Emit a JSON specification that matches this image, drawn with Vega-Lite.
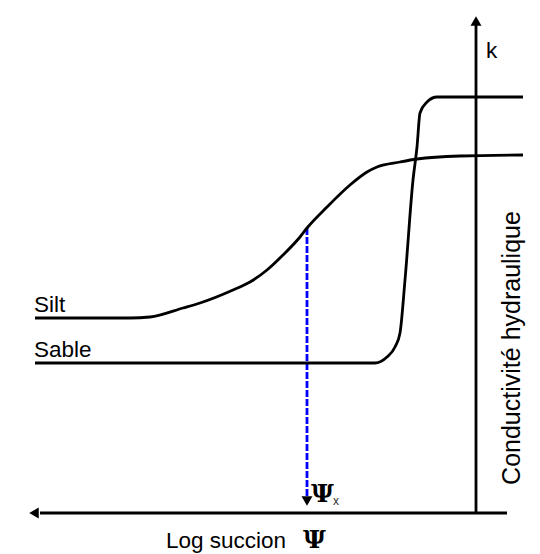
{
  "$schema": "https://vega.github.io/schema/vega-lite/v6.json",
  "width": 540,
  "height": 554,
  "autosize": {"type": "fit", "contains": "padding"},
  "padding": 0,
  "background": "white",
  "config": {"view": {"stroke": null}},
  "datasets": {
    "curves": [
      {"soil": "Silt", "x": 35, "y": 236},
      {"soil": "Silt", "x": 130, "y": 236},
      {"soil": "Silt", "x": 150, "y": 237},
      {"soil": "Silt", "x": 183, "y": 246},
      {"soil": "Silt", "x": 200, "y": 251},
      {"soil": "Silt", "x": 233, "y": 264},
      {"soil": "Silt", "x": 250, "y": 272},
      {"soil": "Silt", "x": 267, "y": 284},
      {"soil": "Silt", "x": 283, "y": 299},
      {"soil": "Silt", "x": 300, "y": 317},
      {"soil": "Silt", "x": 307, "y": 326},
      {"soil": "Silt", "x": 327, "y": 347},
      {"soil": "Silt", "x": 350, "y": 369},
      {"soil": "Silt", "x": 367, "y": 382},
      {"soil": "Silt", "x": 377, "y": 387},
      {"soil": "Silt", "x": 400, "y": 392},
      {"soil": "Silt", "x": 417, "y": 395},
      {"soil": "Silt", "x": 460, "y": 398},
      {"soil": "Silt", "x": 523, "y": 399},
      {"soil": "Sable", "x": 35, "y": 191},
      {"soil": "Sable", "x": 375, "y": 191},
      {"soil": "Sable", "x": 387, "y": 197},
      {"soil": "Sable", "x": 395, "y": 207},
      {"soil": "Sable", "x": 400, "y": 221},
      {"soil": "Sable", "x": 405, "y": 274},
      {"soil": "Sable", "x": 413, "y": 374},
      {"soil": "Sable", "x": 417, "y": 407},
      {"soil": "Sable", "x": 420, "y": 441},
      {"soil": "Sable", "x": 427, "y": 452},
      {"soil": "Sable", "x": 437, "y": 457},
      {"soil": "Sable", "x": 523, "y": 457}
    ],
    "axes": [
      {"x": 476, "y": 41, "x2": 476, "y2": 530},
      {"x": 40, "y": 41, "x2": 507, "y2": 41}
    ],
    "guide": [
      {"x": 307, "y": 326, "x2": 307, "y2": 58}
    ]
  },
  "layer": [
    {
      "data": {"name": "axes"},
      "mark": {"type": "rule", "color": "black", "strokeWidth": 2.8},
      "encoding": {
        "x": {"field": "x", "type": "quantitative", "scale": {"domain": [0, 540], "nice": false, "zero": false}, "axis": null},
        "y": {"field": "y", "type": "quantitative", "scale": {"domain": [0, 554], "nice": false, "zero": false}, "axis": null},
        "x2": {"field": "x2"},
        "y2": {"field": "y2"}
      }
    },
    {
      "data": {"name": "guide"},
      "mark": {"type": "rule", "color": "#0000ff", "strokeWidth": 2.8, "strokeDash": [7, 2]},
      "encoding": {
        "x": {"field": "x", "type": "quantitative"},
        "y": {"field": "y", "type": "quantitative"},
        "x2": {"field": "x2"},
        "y2": {"field": "y2"}
      }
    },
    {
      "data": {"name": "curves"},
      "mark": {"type": "line", "color": "black", "strokeWidth": 2.8, "interpolate": "monotone"},
      "encoding": {
        "x": {"field": "x", "type": "quantitative"},
        "y": {"field": "y", "type": "quantitative"},
        "detail": {"field": "soil"}
      }
    },
    {
      "data": {"values": [
        {"x": 476, "y": 533, "shape": "triangle-up"},
        {"x": 34, "y": 41, "shape": "triangle-left"},
        {"x": 307, "y": 53, "shape": "triangle-down"}
      ]},
      "mark": {"type": "point", "filled": true, "color": "black", "opacity": 1, "size": 120},
      "encoding": {
        "x": {"field": "x", "type": "quantitative"},
        "y": {"field": "y", "type": "quantitative"},
        "shape": {"field": "shape", "type": "nominal", "scale": null}
      }
    },
    {
      "data": {"values": [
        {"x": 34, "y": 242, "label": "Silt"},
        {"x": 34, "y": 197, "label": "Sable"},
        {"x": 486, "y": 496, "label": "k"},
        {"x": 166, "y": 6, "label": "Log succion"}
      ]},
      "mark": {"type": "text", "align": "left", "baseline": "alphabetic", "font": "Liberation Sans", "fontSize": 22.5, "color": "black"},
      "encoding": {
        "x": {"field": "x", "type": "quantitative"},
        "y": {"field": "y", "type": "quantitative"},
        "text": {"field": "label"}
      }
    },
    {
      "data": {"values": [
        {"x": 303, "y": 6, "label": "Ψ"},
        {"x": 311, "y": 52, "label": "Ψ"}
      ]},
      "mark": {"type": "text", "align": "left", "baseline": "alphabetic", "font": "DejaVu Serif", "fontWeight": "bold", "fontSize": 25, "color": "black"},
      "encoding": {
        "x": {"field": "x", "type": "quantitative"},
        "y": {"field": "y", "type": "quantitative"},
        "text": {"field": "label"}
      }
    },
    {
      "data": {"values": [{"x": 333, "y": 49, "label": "x"}]},
      "mark": {"type": "text", "align": "left", "baseline": "alphabetic", "font": "Liberation Sans", "fontSize": 12, "color": "#333"},
      "encoding": {
        "x": {"field": "x", "type": "quantitative"},
        "y": {"field": "y", "type": "quantitative"},
        "text": {"field": "label"}
      }
    },
    {
      "data": {"values": [{"x": 512, "y": 206, "label": "Conductivité hydraulique"}]},
      "mark": {"type": "text", "align": "center", "baseline": "middle", "angle": 270, "font": "Liberation Sans", "fontSize": 25, "color": "black"},
      "encoding": {
        "x": {"field": "x", "type": "quantitative"},
        "y": {"field": "y", "type": "quantitative"},
        "text": {"field": "label"}
      }
    }
  ]
}
